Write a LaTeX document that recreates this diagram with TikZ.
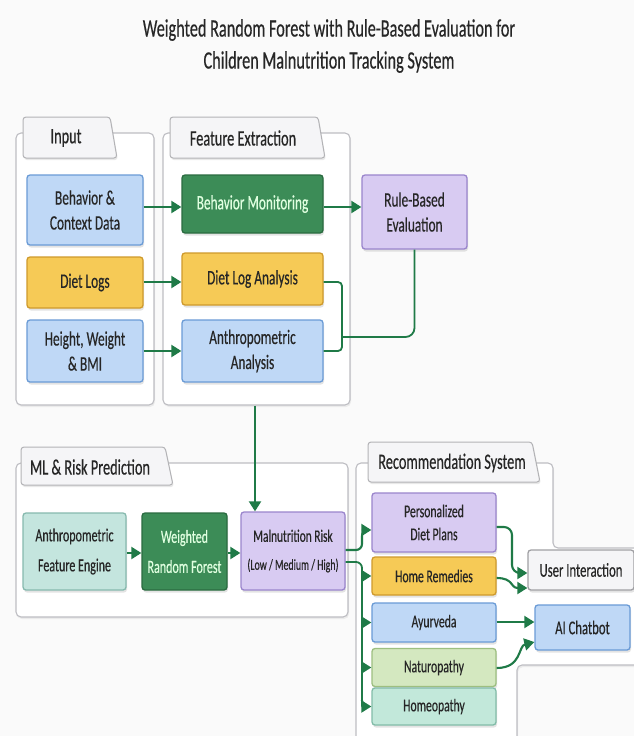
\documentclass[tikz,border=0pt]{standalone}
\usepackage{fontspec}
\setmainfont[FakeStretch=0.65,FakeBold=0.4]{Carlito}
\usetikzlibrary{arrows.meta,shadows}
\definecolor{bgc}{HTML}{FAFAFA}
\definecolor{blueF}{HTML}{BFD8F6}\definecolor{blueD}{HTML}{6A9BD6}
\definecolor{yelF}{HTML}{F6CA56}\definecolor{yelD}{HTML}{CF9A2C}
\definecolor{dgF}{HTML}{3C8C57}\definecolor{dgD}{HTML}{2A6B40}
\definecolor{purF}{HTML}{D8CBF2}\definecolor{purD}{HTML}{9A85CC}
\definecolor{tealF}{HTML}{C4E5DE}\definecolor{tealD}{HTML}{86B9AE}
\definecolor{lgF}{HTML}{D4E8C0}\definecolor{lgD}{HTML}{9DBF80}
\definecolor{homF}{HTML}{C2E8DA}\definecolor{homD}{HTML}{82BCA8}
\definecolor{grayF}{HTML}{F5F5F7}\definecolor{grayD}{HTML}{A0A0A4}
\definecolor{arrc}{HTML}{1F7A47}
\definecolor{txt}{HTML}{262626}
\definecolor{pnl}{HTML}{BDBDC2}
\tikzset{
  box/.style={draw, rounded corners=3pt, line width=1.3pt, align=center, text=txt,
    font=\fontsize{20.5}{25}\selectfont, inner sep=2pt,
    drop shadow={opacity=0.22, shadow xshift=1pt, shadow yshift=-2.5pt}},
  bbox/.style={box, fill=blueF, draw=blueD},
  ybox/.style={box, fill=yelF, draw=yelD},
  gbox/.style={box, fill=dgF, draw=dgD, text=white!88!green},
  pbox/.style={box, fill=purF, draw=purD},
  tbox/.style={box, fill=tealF, draw=tealD},
  lbox/.style={box, fill=lgF, draw=lgD},
  hbox/.style={box, fill=homF, draw=homD},
  wbox/.style={box, fill=grayF, draw=grayD},
  mlfont/.style={font=\fontsize{18.5}{30}\selectfont},
  recfont/.style={font=\fontsize{18}{23}\selectfont},
  panel/.style={draw=pnl, line width=1.1pt, fill=white, rounded corners=5pt,
    drop shadow={opacity=0.12, shadow xshift=1pt, shadow yshift=-2pt}},
  tab/.style={draw=grayD!80, line width=1pt, fill=grayF, rounded corners=3pt,
    drop shadow={opacity=0.18, shadow xshift=1pt, shadow yshift=-2pt}},
  tabtext/.style={font=\fontsize{22}{24}\selectfont, text=txt},
  arr/.style={draw=arrc, line width=2.1pt, -{Triangle[length=10pt,width=12pt]}},
  conn/.style={draw=arrc, line width=1.8pt},
}
\begin{document}
\begin{tikzpicture}[x=1pt,y=-1pt]
\fill[bgc] (0,0) rectangle (634,736);
\useasboundingbox (0,0) rectangle (634,736);
% title
\node[font=\fontsize{25}{32}\selectfont, text=txt, align=center] (title) at (329,46)
  {Weighted Random Forest with Rule-Based Evaluation for\\Children Malnutrition Tracking System};
% panels
\node[panel, minimum width=138, minimum height=272] (pin) at (85,269) {};
\node[panel, minimum width=187, minimum height=272] (pfe) at (256.5,269) {};
\node[panel, minimum width=332, minimum height=154] (pml) at (182,540) {};
\draw[panel] (356,750) -- (356,463) -- (553,463) -- (553,548) -- (645,548) -- (645,665) -- (517,665) -- (517,750);
% tabs
\draw[tab] (23,158) -- (23,117) -- (110,117) -- (117,158) -- cycle;
\node[tabtext] (tin) at (66,138) {Input};
\draw[tab] (170,158) -- (170,117) -- (318,117) -- (325,158) -- cycle;
\node[tabtext] (tfe) at (243,138) {Feature Extraction};
\draw[tab] (21,485) -- (21,447) -- (165,447) -- (173,485) -- cycle;
\node[tabtext] (tml) at (90,467) {ML \& Risk Prediction};
\draw[tab] (368,482) -- (368,442) -- (532,442) -- (540,482) -- cycle;
\node[tabtext] (trec) at (452,463) {Recommendation System};
% input boxes
\node[bbox, minimum width=116, minimum height=70] (in1) at (85,210) {Behavior \&\\Context Data};
\node[ybox, minimum width=116, minimum height=51] (in2) at (85,282.5) {Diet Logs};
\node[bbox, minimum width=116, minimum height=62] (in3) at (85,351) {Height, Weight\\\& BMI};
% feature boxes
\node[gbox, minimum width=141, minimum height=58] (fe1) at (252.5,204) {Behavior Monitoring};
\node[ybox, minimum width=141, minimum height=52] (fe2) at (252.5,279) {Diet Log Analysis};
\node[bbox, minimum width=141, minimum height=62] (fe3) at (252.5,351) {Anthropometric\\Analysis};
\node[pbox, minimum width=105, minimum height=74] (rule) at (414.5,212) {Rule-Based\\Evaluation};
% ML boxes
\node[tbox, mlfont, minimum width=103, minimum height=77] (ml1) at (74.5,551.5) {Anthropometric\\Feature Engine};
\node[gbox, mlfont, minimum width=85, minimum height=77] (ml2) at (184.5,551.5) {Weighted\\Random Forest};
\node[pbox, font=\fontsize{17.5}{28}\selectfont, minimum width=104, minimum height=78] (ml3) at (293,551) {Malnutrition Risk\\{\fontsize{15.2}{17}\selectfont(Low / Medium / High)}};
% recommendation boxes
\node[pbox, recfont, minimum width=124, minimum height=59] (r1) at (434,522.5) {Personalized\\Diet Plans};
\node[ybox, recfont, minimum width=124, minimum height=38] (r2) at (434,576) {Home Remedies};
\node[bbox, recfont, minimum width=124, minimum height=39] (r3) at (434,622.5) {Ayurveda};
\node[lbox, recfont, minimum width=124, minimum height=38] (r4) at (434,667.5) {Naturopathy};
\node[hbox, recfont, minimum width=124, minimum height=37] (r5) at (434,706.5) {Homeopathy};
\node[wbox, font=\fontsize{19.5}{23}\selectfont, minimum width=106, minimum height=40] (ui) at (581,570) {User Interaction};
\node[bbox, font=\fontsize{19.5}{23}\selectfont, minimum width=95, minimum height=45] (ai) at (582.5,627.5) {AI Chatbot};
% connectors: input -> features
\draw[arr] (in1.east |- 0,207) -- (fe1.west |- 0,207);
\draw[arr] (in2.east |- 0,282) -- (fe2.west |- 0,282);
\draw[arr] (in3.east) -- (fe3.west);
\draw[arr] (fe1.east |- 0,207) -- (rule.west |- 0,207);
\coordinate (mx) at (342,0);
\coordinate (mj) at (342,337);
\draw[conn, rounded corners=4pt] (fe2.east |- 0,282) -- (mx |- 0,282) -- (fe3.east -| mx) -- (fe3.east);
\draw[conn, rounded corners=9pt] (mj) -- (mj -| rule.south) -- (rule.south);
% down arrow
\coordinate (dx) at (255,0);
\draw[arr] (pfe.south -| dx) -- (ml3.north -| dx);
% ML row
\draw[arr] (ml1.east |- 0,553) -- (ml2.west |- 0,553);
\draw[arr] (ml2.east |- 0,553) -- (ml3.west |- 0,553);
% risk -> recommendations
\coordinate (tx) at (362,0);
\draw[arr, rounded corners=6pt] (ml3.east |- 0,550) -- (tx |- 0,550) -- (tx |- 0,530) -- (r1.west |- 0,530);
\draw[conn, rounded corners=6pt] (ml3.east |- 0,562) -- (tx |- 0,562) -- (tx |- r5.west);
\draw[arr, rounded corners=6pt] (tx |- 0,700) -- (tx |- r5.west) -- (r5.west);
\draw[arr] (tx |- r2.west) -- (r2.west);
\draw[arr] (tx |- r3.west) -- (r3.west);
\draw[arr] (tx |- r4.west) -- (r4.west);
% recommendations -> outputs
\draw[arr, rounded corners=8pt] (r1.east |- 0,527) -- (512,527) -- (512,573) -- (ui.west |- 0,573);
\draw[arr] (r2.east |- 0,578) .. controls (514,578) and (510,588) .. (ui.west |- 0,588);
\draw[arr] (r3.east |- 0,622) -- (ai.west |- 0,622);
\draw[arr] (r4.east |- 0,668) .. controls (522,668) and (518,646) .. (ai.west |- 0,642);
\end{tikzpicture}
\end{document}
